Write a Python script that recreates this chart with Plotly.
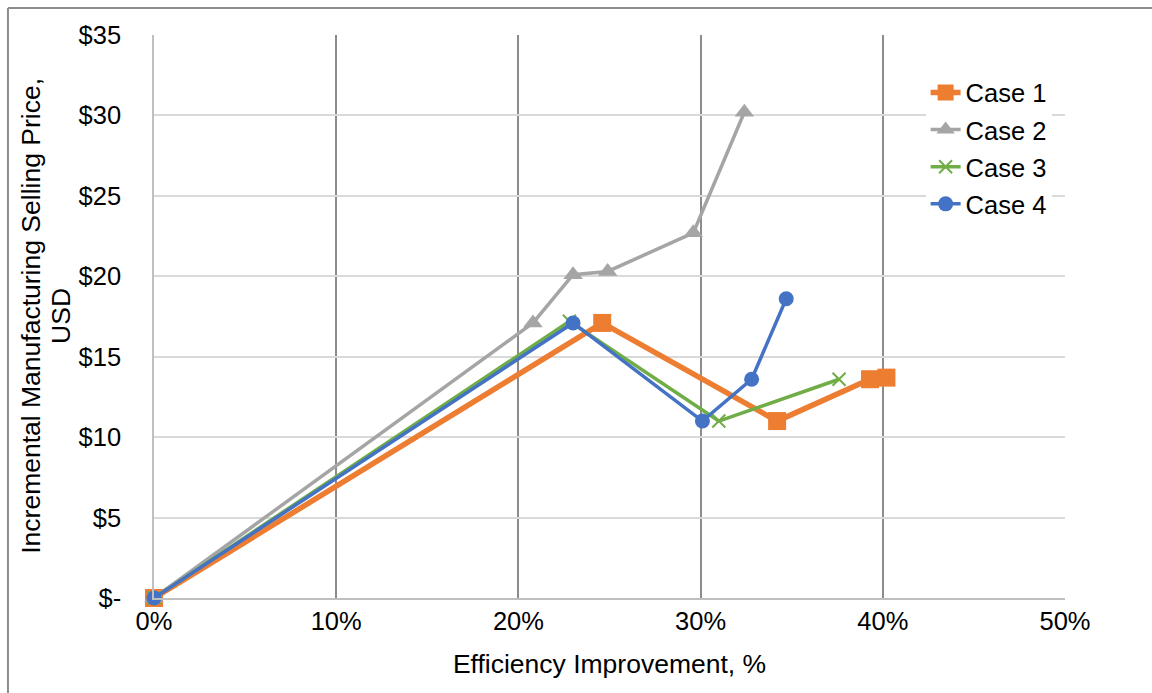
import plotly.graph_objects as go

# Efficiency improvement (%) and incremental manufacturing selling price (USD) per case
case1_x = [0.0, 24.6, 34.2, 39.3, 40.2]
case1_y = [0.0, 17.1, 11.0, 13.6, 13.7]

case2_x = [0.0, 20.8, 23.0, 24.9, 29.6, 32.4]
case2_y = [0.0, 17.1, 20.1, 20.3, 22.7, 30.2]

case3_x = [0.0, 22.8, 31.0, 37.6]
case3_y = [0.0, 17.2, 11.0, 13.6]

case4_x = [0.0, 23.0, 30.1, 32.8, 34.7]
case4_y = [0.0, 17.1, 11.0, 13.6, 18.6]

x_ticks = [0, 10, 20, 30, 40, 50]
x_tick_labels = ["0%", "10%", "20%", "30%", "40%", "50%"]
y_ticks = [0, 5, 10, 15, 20, 25, 30, 35]
y_tick_labels = ["$-", "$5", "$10", "$15", "$20", "$25", "$30", "$35"]
y_title_lines = ["Incremental Manufacturing Selling Price,", "USD"]

FONT = "Liberation Sans, Arial, sans-serif"

fig = go.Figure()

fig.add_trace(go.Scatter(
    x=case1_x, y=case1_y, name="Case 1", mode="lines+markers", legendgroup="c1",
    line=dict(color="#ED7D31", width=5.5), cliponaxis=False,
    marker=dict(symbol="square", size=18, color="#ED7D31"),
))
fig.add_trace(go.Scatter(
    x=case2_x, y=case2_y, name="Case 2", mode="lines+markers", legendgroup="c2",
    line=dict(color="#A5A5A5", width=3.5), cliponaxis=False,
    marker=dict(symbol="triangle-up", size=17, color="#A5A5A5"),
))
fig.add_trace(go.Scatter(
    x=case3_x, y=case3_y, name="Case 3", mode="lines+markers", legendgroup="c3",
    line=dict(color="#70AD47", width=3.5), cliponaxis=False,
    marker=dict(symbol="x-thin", size=13, color="#70AD47",
                line=dict(color="#70AD47", width=2)),
))
fig.add_trace(go.Scatter(
    x=case4_x, y=case4_y, name="Case 4", mode="lines+markers", legendgroup="c4",
    line=dict(color="#4472C4", width=3.5), cliponaxis=False,
    marker=dict(symbol="circle", size=15, color="#4472C4"),
))

# Outer chart frame (top and left edges)
frame = dict(type="line", xref="paper", yref="paper",
             line=dict(color="#8C8C8C", width=2), layer="above")
fig.add_shape(**frame, x0=-0.1603, x1=1.12, y0=1.048, y1=1.048)
fig.add_shape(**frame, x0=-0.1603, x1=-0.1603, y0=1.048, y1=-0.2)

# Two-line vertical axis title, set with tight line spacing
for line_text, xpos in zip(y_title_lines, [-0.1352, -0.1021]):
    fig.add_annotation(
        text=line_text, xref="paper", yref="paper", x=xpos, y=0.501,
        xanchor="center", yanchor="middle", textangle=-90, showarrow=False,
        font=dict(family=FONT, size=26.5, color="black"),
    )

fig.update_layout(
    width=1152, height=693,
    margin=dict(l=154, r=87, t=35, b=95),
    paper_bgcolor="white", plot_bgcolor="white",
    font=dict(family=FONT, size=25.5, color="black"),
    showlegend=True,
    legend=dict(
        x=0.847, y=0.939, xanchor="left", yanchor="top",
        bgcolor="white", borderwidth=0,
        font=dict(family=FONT, size=25.5, color="black"),
        tracegroupgap=1,
    ),
    xaxis=dict(
        range=[0, 50], tickvals=x_ticks, ticktext=x_tick_labels,
        showgrid=True, gridcolor="#8C8C8C", gridwidth=1.5,
        zeroline=False, showline=True, linecolor="#BFBFBF", linewidth=1.5,
        ticks="", ticklabelstandoff=0,
        title=dict(text="Efficiency Improvement, %", standoff=20,
                   font=dict(family=FONT, size=26.5)),
        fixedrange=True,
    ),
    yaxis=dict(
        range=[0, 35], tickvals=y_ticks, ticktext=y_tick_labels,
        showgrid=True, gridcolor="#D9D9D9", gridwidth=1.5,
        zeroline=False, showline=True, linecolor="#BFBFBF", linewidth=1.5,
        ticks="", ticklabelstandoff=26,
        fixedrange=True,
    ),
)

fig.write_html("out.html")
